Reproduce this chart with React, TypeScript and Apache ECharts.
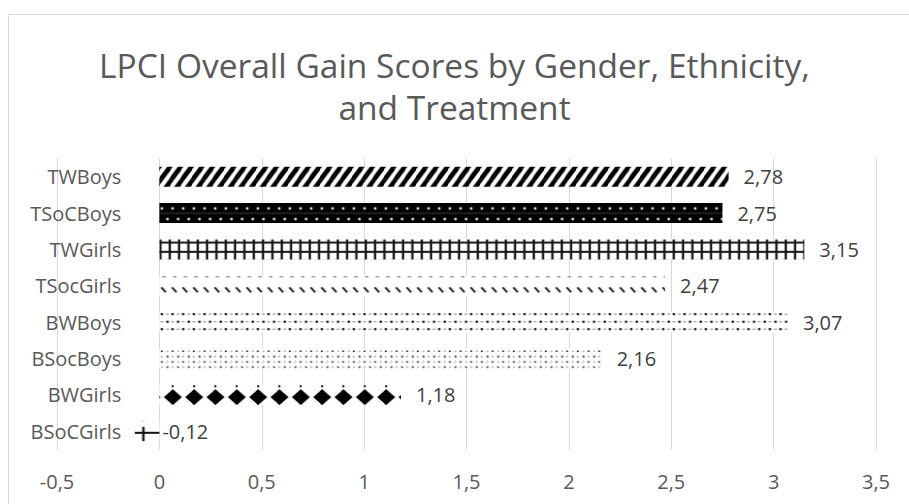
import React, { useEffect, useRef } from "react";
import * as echarts from "echarts";

// ---------- data ----------
const categories = [
  "TWBoys",
  "TSoCBoys",
  "TWGirls",
  "TSocGirls",
  "BWBoys",
  "BSocBoys",
  "BWGirls",
  "BSoCGirls",
];
const values = [2.78, 2.75, 3.15, 2.47, 3.07, 2.16, 1.18, -0.12];
const patternNames = [
  "wideUpDiagonal",
  "whiteDotsOnBlack",
  "grid",
  "dashedDiagonal",
  "dottedGrid",
  "dots",
  "diamonds",
  "cross",
];
const xMin = -0.5;
const xMax = 3.5;
const xStep = 0.5;
const titleLines = ["LPCI Overall Gain Scores by Gender, Ethnicity,", "and Treatment"];

// ---------- layout / style ----------
const W = 909;
const H = 504;
const GRID_LEFT = 57;
const GRID_RIGHT = 33;
const GRID_TOP = 158.5;
const GRID_HEIGHT = 291;
const BAR_H = 20;
const U = 32 / 3;
const FONT = "'Open Sans', 'Noto Sans', sans-serif";

const mod = (a: number, b: number) => ((a % b) + b) % b;
const comma = (v: number) => String(v).replace(".", ",");

type Drawer = (ctx: CanvasRenderingContext2D, w: number, h: number) => void;

function makeTile(w: number, h: number, bg: string, draw: Drawer, ox: number, oy: number) {
  const S = 4;
  const c = document.createElement("canvas");
  c.width = Math.round(w * S);
  c.height = Math.round(h * S);
  const ctx = c.getContext("2d")!;
  ctx.scale(c.width / w, c.height / h);
  ctx.fillStyle = bg;
  ctx.fillRect(0, 0, w, h);
  const sx = mod(ox, w);
  const sy = mod(oy, h);
  for (const dx of [-w, 0, w]) {
    for (const dy of [-h, 0, h]) {
      ctx.save();
      ctx.translate(sx + dx, sy + dy);
      draw(ctx, w, h);
      ctx.restore();
    }
  }
  return { image: c.toDataURL(), imageWidth: w, imageHeight: h, repeat: "repeat" };
}

function dot(ctx: CanvasRenderingContext2D, x: number, y: number, r: number, color: string) {
  ctx.fillStyle = color;
  ctx.beginPath();
  ctx.arc(x, y, r, 0, Math.PI * 2);
  ctx.fill();
}

function seg(ctx: CanvasRenderingContext2D, x1: number, y1: number, x2: number, y2: number, lw: number, color: string) {
  ctx.strokeStyle = color;
  ctx.lineWidth = lw;
  ctx.beginPath();
  ctx.moveTo(x1, y1);
  ctx.lineTo(x2, y2);
  ctx.stroke();
}

function buildPattern(name: string, zeroX: number, barTop: number) {
  switch (name) {
    case "wideUpDiagonal":
      return makeTile(U, 15, "#fff", (ctx, w, h) => seg(ctx, -w, 2 * h, 2 * w, -h, 4.6, "#000"), zeroX, barTop);
    case "whiteDotsOnBlack":
      return makeTile(U, 2 * U, "#000", (ctx, w, h) => {
        dot(ctx, 0.25 * w, 0.25 * h, 1.3, "#fff");
        dot(ctx, 0.75 * w, 0.75 * h, 1.3, "#fff");
      }, zeroX, barTop);
    case "grid":
      return makeTile(28 / 3, 28 / 3, "#fff", (ctx, w, h) => {
        ctx.fillStyle = "#111";
        ctx.fillRect(0, 0, 2.2, h);
        ctx.fillRect(0, 0, w, 2.2);
      }, zeroX, barTop + 2);
    case "dashedDiagonal":
      return makeTile(U, BAR_H, "#fff", (ctx, w) => {
        seg(ctx, 0.3 * w, 1, 0.6 * w, 1, 1.2, "#777");
        seg(ctx, 0.2 * w, 11.5, 0.6 * w, 16.5, 1.9, "#222");
      }, zeroX, barTop);
    case "dottedGrid":
      return makeTile(U, BAR_H, "#fff", (ctx, w) => {
        const rows = [2, 9.5, 17];
        rows.forEach((y, k) => {
          const a = k % 2 === 0 ? 0.25 : 0.75;
          const b = k % 2 === 0 ? 0.75 : 0.25;
          dot(ctx, a * w, y, 1.25, "#111");
          seg(ctx, b * w - 1.3, y, b * w + 1.3, y, 1.1, "#888");
        });
      }, zeroX, barTop);
    case "dots":
      return makeTile(U, U, "#fff", (ctx, w, h) => {
        dot(ctx, 0.25 * w, 0.25 * h, 1.0, "#333");
        dot(ctx, 0.75 * w, 0.75 * h, 1.0, "#333");
        dot(ctx, 0.75 * w, 0.25 * h, 0.85, "#999");
        dot(ctx, 0.25 * w, 0.75 * h, 0.85, "#999");
      }, zeroX, barTop);
    case "diamonds":
      return makeTile(2 * U, BAR_H, "#fff", (ctx, w) => {
        const cx = w / 2;
        const cy = 12.2;
        ctx.fillStyle = "#000";
        ctx.beginPath();
        ctx.moveTo(cx, cy - 8);
        ctx.lineTo(cx + 9, cy);
        ctx.lineTo(cx, cy + 8);
        ctx.lineTo(cx - 9, cy);
        ctx.closePath();
        ctx.fill();
        ctx.fillRect(cx - 0.8, 0, 1.6, 2.5);
      }, zeroX + 2.8, barTop);
    case "cross":
    default:
      return makeTile(2 * U, BAR_H, "#fff", (ctx, w) => {
        ctx.fillStyle = "#111";
        ctx.fillRect(0, 10.5, w, 2);
        ctx.fillRect(5.33 - 1.2, 5.5, 2.4, 14.5);
      }, zeroX, barTop);
  }
}

export default function App() {
  const ref = useRef<HTMLDivElement>(null);

  useEffect(() => {
    if (!ref.current) return;
    const chart = echarts.init(ref.current, null, { renderer: "svg" });
    const gridWidth = W - GRID_LEFT - GRID_RIGHT;
    const band = GRID_HEIGHT / categories.length;
    const zeroX = GRID_LEFT + ((0 - xMin) / (xMax - xMin)) * gridWidth;

    const data = values.map((v, i) => {
      const barTop = GRID_TOP + band * i + (band - BAR_H) / 2;
      const item: any = {
        value: v,
        itemStyle: { color: buildPattern(patternNames[i], zeroX, barTop) },
      };
      if (v < 0) item.label = { distance: 3 };
      return item;
    });

    chart.setOption({
      animation: false,
      backgroundColor: "#ffffff",
      textStyle: { fontFamily: FONT },
      title: {
        text: titleLines.join("\n"),
        left: "center",
        top: 44,
        padding: 0,
        textStyle: {
          fontFamily: FONT,
          fontSize: 33.5,
          lineHeight: 42,
          fontWeight: "normal",
          color: "#595959",
        },
      },
      graphic: [
        {
          type: "rect",
          silent: true,
          z: -10,
          shape: { x: 8.5, y: 14.5, width: 1000, height: 600 },
          style: { fill: "none", stroke: "#d9d9d9", lineWidth: 1 },
        },
      ],
      grid: {
        left: GRID_LEFT,
        right: GRID_RIGHT,
        top: GRID_TOP,
        height: GRID_HEIGHT,
        containLabel: false,
        outerBoundsMode: "none",
      },
      xAxis: {
        type: "value",
        min: xMin,
        max: xMax,
        interval: xStep,
        axisLine: { show: false },
        axisTick: { show: false },
        splitLine: { show: true, lineStyle: { color: "#d9d9d9", width: 1 } },
        axisLabel: {
          formatter: (v: number) => comma(v),
          fontFamily: FONT,
          fontSize: 20,
          color: "#595959",
          margin: 22,
        },
      },
      yAxis: {
        type: "category",
        data: categories,
        inverse: true,
        offset: -(zeroX - GRID_LEFT),
        axisTick: { show: false },
        splitLine: { show: false },
        axisLine: { show: true, onZero: false, lineStyle: { color: "#d9d9d9", width: 1 } },
        axisLabel: {
          fontFamily: FONT,
          fontSize: 20,
          color: "#595959",
          margin: 38,
        },
      },
      series: [
        {
          type: "bar",
          data,
          barWidth: BAR_H,
          label: {
            show: true,
            position: "right",
            distance: 15,
            formatter: (p: any) => comma(p.value),
            fontFamily: FONT,
            fontSize: 20,
            color: "#404040",
          },
        },
      ],
    });

    return () => chart.dispose();
  }, []);

  return (
    <div
      ref={ref}
      style={{ position: "absolute", left: 0, top: 0, width: W, height: H }}
    />
  );
}
